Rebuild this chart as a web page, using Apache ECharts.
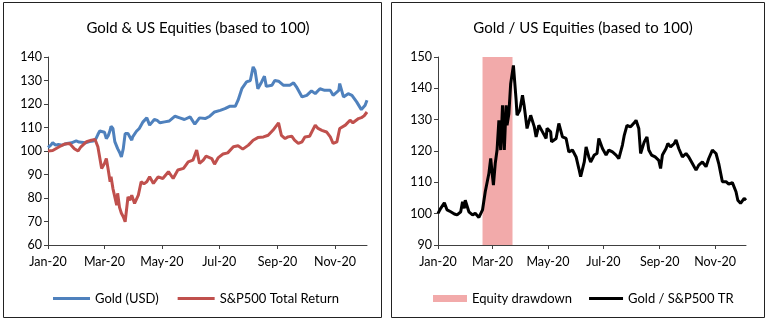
<!DOCTYPE html>
<html lang="en">
<head>
    <meta charset="utf-8">
    <title>Gold & US Equities</title>
    <script src="https://cdn.jsdelivr.net/npm/echarts@6.0.0/dist/echarts.min.js"></script>
    <style>
        html, body { margin: 0; padding: 0; background: #fff; }
        #chart { width: 768px; height: 323px; }
    </style>
</head>
<body>
    <div id="chart"></div>
    <script>
        // x values are days since 1 Jan 2020
        const monthTicks = [0, 60, 121, 182, 244, 305];
        const monthLabels = ['Jan-20', 'Mar-20', 'May-20', 'Jul-20', 'Sep-20', 'Nov-20'];

        const goldDays = [0, 3, 5, 8, 11, 15, 20, 25, 30, 33, 35, 40, 44, 48, 51, 53, 55, 57, 60, 62, 64, 66, 67, 69, 71, 74, 76, 78, 80, 82, 85, 87, 89, 90, 94, 97, 101, 105, 108, 113, 116, 119, 124, 129, 135, 140, 145, 151, 156, 161, 167, 172, 177, 183, 188, 193, 199, 202, 206, 211, 215, 218, 220, 223, 227, 230, 232, 238, 241, 245, 250, 257, 261, 264, 270, 275, 280, 284, 289, 294, 300, 303, 309, 310, 314, 319, 323, 328, 333, 335, 337, 339];
        const goldValues = [101.5, 102.5, 103.5, 102.5, 102.8, 102.5, 103.2, 103.5, 104.3, 103.8, 103, 103.5, 104, 104.2, 105.3, 107, 108.5, 109.1, 108, 105.3, 106.5, 108.8, 110.5, 109.6, 104, 101, 99.5, 97.5, 101, 107.4, 107.4, 106, 104.6, 106, 108.4, 109.6, 112.4, 114.1, 111, 113.4, 113, 112, 112.4, 112.8, 114.8, 114.1, 113.4, 114.5, 111.4, 114.1, 113.8, 114.8, 116.6, 117.3, 118, 119, 119, 121.6, 126.5, 129.4, 130, 135.8, 134.3, 126.5, 129.4, 131.8, 127.5, 128, 130, 129.7, 128, 128, 129, 127.3, 123, 123.7, 125.6, 124.4, 126.5, 125.8, 125.8, 123.7, 125.8, 128.7, 123, 124.4, 123.7, 120.9, 117.6, 117.3, 119.5, 121.6];

        const spxDays = [0, 5, 12, 18, 23, 28, 32, 35, 41, 46, 50, 53, 57, 60, 62, 64, 66, 67, 69, 71, 73, 74, 76, 78, 80, 82, 85, 87, 89, 92, 96, 99, 102, 105, 108, 112, 117, 122, 128, 133, 138, 144, 149, 154, 158, 160, 161, 165, 168, 174, 177, 181, 186, 191, 197, 202, 207, 213, 218, 223, 229, 234, 239, 245, 248, 252, 255, 259, 262, 266, 270, 273, 278, 284, 287, 291, 296, 300, 303, 307, 310, 316, 321, 324, 330, 333, 336, 339];
        const spxValues = [100, 100.2, 101.8, 103, 103.2, 101, 100, 101.8, 104, 104.6, 104.9, 101.8, 92.6, 94.7, 96.8, 92, 86.9, 89, 84, 80.5, 77, 82, 76, 73.5, 72, 69.9, 80.5, 79, 81.2, 77.7, 81.2, 86.9, 86, 86.9, 89, 86.2, 89, 88.3, 91.2, 88.3, 91.9, 92.6, 95.4, 96.1, 100.4, 101, 94.7, 96.1, 97.8, 96.8, 94.4, 97.2, 98.7, 99.2, 101.8, 102.2, 100.8, 102.5, 104.6, 105.7, 106, 106.7, 108.8, 112, 106.7, 105.3, 106, 106.3, 104.6, 103.2, 103.9, 106, 106.3, 111, 109.6, 108.8, 108.1, 106, 103.2, 103.9, 109.6, 111, 113.1, 112, 113.8, 114.2, 115, 116.6];

        const ratioDays = [0, 3, 7, 10, 14, 18, 21, 25, 27, 29, 30, 34, 38, 41, 45, 49, 52, 56, 58, 60, 61, 63, 65, 67, 69, 71, 73, 75, 76, 78, 80, 83, 86, 87, 90, 93, 95, 98, 102, 106, 108, 111, 115, 119, 120, 124, 125, 130, 133, 137, 141, 144, 148, 152, 155, 157, 159, 161, 163, 166, 168, 172, 175, 177, 181, 185, 188, 192, 196, 199, 203, 205, 208, 212, 216, 218, 221, 223, 227, 230, 232, 235, 239, 243, 245, 247, 251, 253, 256, 260, 262, 265, 269, 273, 276, 280, 284, 287, 291, 295, 298, 302, 306, 309, 313, 317, 320, 324, 328, 330, 333, 337, 339];
        const ratioValues = [100.1, 101.7, 103.5, 101.2, 100.6, 99.9, 99.6, 100.6, 103.8, 101.7, 104.3, 100.6, 99.6, 100.1, 98.8, 101.2, 107, 112.8, 117.6, 111.8, 109.1, 116, 120.3, 129.8, 120.3, 134.6, 120.3, 134.6, 128.2, 131.9, 141.5, 147.3, 136.2, 131.4, 133, 137.8, 134.1, 127.2, 131.4, 127.7, 124.5, 128.2, 126.1, 124, 127.2, 126.1, 122.9, 124, 128.8, 124.5, 124, 119.7, 120.3, 118.1, 114.4, 111.8, 111.2, 116.5, 121.3, 118.1, 116.5, 118.7, 119.2, 124, 120.8, 118.7, 120.3, 119.7, 118.7, 117.6, 121.9, 125, 128.2, 127.7, 129, 129.8, 127.2, 119.2, 122.9, 124.5, 120.3, 118.7, 118.1, 117, 114.4, 118.7, 120.8, 122.4, 121.3, 122.4, 123.5, 120.8, 118.1, 119.2, 118.1, 116, 113.9, 115.5, 116.5, 115, 117.6, 120.3, 119.2, 116, 110.2, 110.2, 109.4, 109.9, 107, 104.3, 103.3, 104.9, 104.3];

        // equity drawdown: 19 Feb to 23 Mar
        const drawdownDays = [49, 82];

        const pairs = (xs, ys) => xs.map((x, i) => [x, ys[i]]);

        const font = 'Lato';
        const axisColor = '#404040';
        // flat bar used as legend key for the line series
        const lineIcon = 'path://M0,0 L36,0 L36,3 L0,3 Z';

        function xAxisFor(gridIndex) {
            return {
                type: 'value',
                gridIndex: gridIndex,
                min: 0,
                max: 339,
                splitLine: { show: false },
                axisLine: { lineStyle: { color: axisColor, width: 1 } },
                axisTick: { show: true, length: 4, customValues: monthTicks, lineStyle: { color: axisColor } },
                axisLabel: {
                    customValues: monthTicks,
                    formatter: v => monthLabels[monthTicks.indexOf(v)] || '',
                    color: '#000',
                    fontFamily: font,
                    fontSize: 12.5,
                    margin: 10
                }
            };
        }

        function yAxisFor(gridIndex, min, max) {
            return {
                type: 'value',
                gridIndex: gridIndex,
                min: min,
                max: max,
                interval: 10,
                splitLine: { show: false },
                axisLine: { show: true, lineStyle: { color: axisColor, width: 1 } },
                axisTick: { show: true, length: 4, lineStyle: { color: axisColor } },
                axisLabel: { color: '#000', fontFamily: font, fontSize: 12.5, margin: 6 }
            };
        }

        const chart = echarts.init(document.getElementById('chart'), null, { renderer: 'canvas' });

        chart.setOption({
            animation: false,
            backgroundColor: '#fff',
            title: [
                { text: 'Gold & US Equities (based to 100)', left: 193, top: 16, textAlign: 'center',
                  textStyle: { fontFamily: font, fontSize: 15, fontWeight: 'normal', color: '#000' } },
                { text: 'Gold / US Equities (based to 100)', left: 578, top: 16, textAlign: 'center',
                  textStyle: { fontFamily: font, fontSize: 15, fontWeight: 'normal', color: '#000' } }
            ],
            graphic: [
                { type: 'rect', shape: { x: 3.5, y: 2.5, width: 378, height: 315 },
                  style: { fill: 'none', stroke: '#222', lineWidth: 1 } },
                { type: 'rect', shape: { x: 391.5, y: 2.5, width: 373, height: 315 },
                  style: { fill: 'none', stroke: '#222', lineWidth: 1 } }
            ],
            legend: [
                { left: 48, top: 287, itemWidth: 37, itemHeight: 7, itemGap: 19,
                  symbolKeepAspect: true,
                  textStyle: { fontFamily: font, fontSize: 13, color: '#000' },
                  data: [{ name: 'Gold (USD)', icon: lineIcon }, { name: 'S&P500 Total Return', icon: lineIcon }] },
                { left: 428, top: 287, itemWidth: 34, itemHeight: 7, itemGap: 17,
                  symbolKeepAspect: true,
                  textStyle: { fontFamily: font, fontSize: 13, color: '#000' },
                  data: [{ name: 'Equity drawdown', icon: 'rect' }, { name: 'Gold / S&P500 TR', icon: lineIcon }] }
            ],
            grid: [
                { left: 48, top: 57, width: 319, height: 188 },
                { left: 438, top: 57, width: 308, height: 188 }
            ],
            xAxis: [xAxisFor(0), xAxisFor(1)],
            yAxis: [yAxisFor(0, 60, 140), yAxisFor(1, 90, 150)],
            series: [
                { name: 'Gold (USD)', type: 'line', xAxisIndex: 0, yAxisIndex: 0,
                  data: pairs(goldDays, goldValues), symbol: 'none',
                  itemStyle: { color: '#4F81BD' }, lineStyle: { color: '#4F81BD', width: 3 } },
                { name: 'S&P500 Total Return', type: 'line', xAxisIndex: 0, yAxisIndex: 0,
                  data: pairs(spxDays, spxValues), symbol: 'none',
                  itemStyle: { color: '#C0504D' }, lineStyle: { color: '#C0504D', width: 3 } },
                { name: 'Equity drawdown', type: 'line', xAxisIndex: 1, yAxisIndex: 1,
                  data: [], symbol: 'none',
                  itemStyle: { color: '#F2AAAA' },
                  markArea: { silent: true, itemStyle: { color: '#F2AAAA' },
                    data: [[{ xAxis: drawdownDays[0] }, { xAxis: drawdownDays[1] }]] } },
                { name: 'Gold / S&P500 TR', type: 'line', xAxisIndex: 1, yAxisIndex: 1,
                  data: pairs(ratioDays, ratioValues), symbol: 'none',
                  itemStyle: { color: '#000' }, lineStyle: { color: '#000', width: 3 } }
            ]
        });
    </script>
</body>
</html>
